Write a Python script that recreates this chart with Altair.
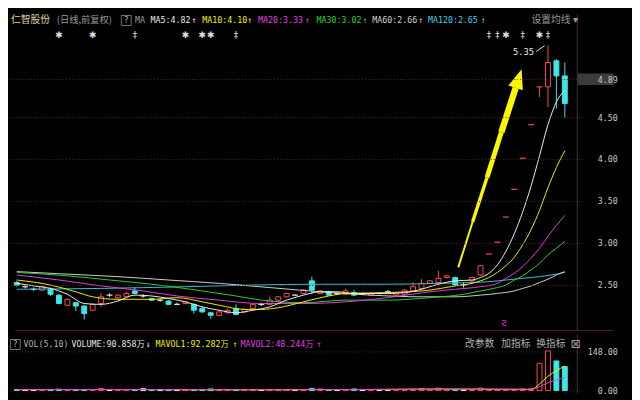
import altair as alt
import pandas as pd

# ---------------- data ----------------
opens  = [2.53,2.48,2.45,2.44,2.45,2.38,2.26,2.29,2.25,2.20,
          2.28,2.38,2.35,2.36,2.43,2.37,2.34,2.32,2.31,2.27,
          2.28,2.27,2.22,2.17,2.14,2.17,2.22,2.18,2.22,2.27,
          2.27,2.32,2.36,2.38,2.40,2.55,2.40,2.42,2.40,2.39,
          2.41,2.39,2.38,2.40,2.42,2.38,2.39,2.43,2.46,2.52,
          2.53,2.59,2.59,2.50,2.55,2.62,2.87,3.01,3.31,3.64,
          4.01,4.41,4.86,4.86,5.17,4.99]
closes = [2.50,2.48,2.45,2.48,2.39,2.28,2.33,2.25,2.16,2.27,
          2.36,2.38,2.38,2.40,2.40,2.37,2.32,2.32,2.27,2.27,
          2.30,2.20,2.18,2.14,2.18,2.20,2.15,2.21,2.27,2.27,
          2.32,2.36,2.40,2.38,2.44,2.44,2.43,2.38,2.40,2.43,
          2.38,2.39,2.40,2.40,2.42,2.41,2.44,2.48,2.52,2.55,
          2.58,2.61,2.50,2.50,2.59,2.73,2.87,3.01,3.31,3.64,
          4.01,4.41,4.86,5.15,4.99,4.66]
highs  = [2.55,2.51,2.47,2.49,2.47,2.39,2.34,2.30,2.26,2.28,
          2.41,2.40,2.39,2.42,2.47,2.39,2.35,2.34,2.32,2.29,
          2.31,2.28,2.25,2.18,2.19,2.22,2.27,2.22,2.28,2.29,
          2.36,2.37,2.41,2.39,2.45,2.60,2.44,2.43,2.41,2.46,
          2.44,2.41,2.41,2.41,2.44,2.42,2.45,2.53,2.57,2.56,
          2.67,2.62,2.60,2.53,2.60,2.74,2.87,3.01,3.31,3.64,
          4.01,4.41,4.86,5.35,5.19,5.15]
lows   = [2.48,2.46,2.43,2.43,2.37,2.27,2.25,2.19,2.09,2.19,
          2.24,2.36,2.34,2.35,2.39,2.35,2.31,2.30,2.26,2.26,
          2.27,2.16,2.17,2.10,2.13,2.16,2.14,2.17,2.21,2.25,
          2.26,2.29,2.35,2.37,2.39,2.39,2.39,2.37,2.38,2.38,
          2.37,2.38,2.37,2.39,2.40,2.37,2.38,2.42,2.45,2.51,
          2.52,2.58,2.49,2.47,2.53,2.61,2.87,3.01,3.31,3.64,
          4.01,4.41,4.74,4.62,4.60,4.49]
volumes = [3.5,2.5,2.0,3.0,3.5,5,3,3,4,3.5,
           8,2.5,2.5,3,3.5,7,3,2.5,3,2,
           2.5,3.5,3,6,2.5,3,4,2.5,3,2,
           3,3,3.5,2.5,4,8,6,3,2.5,3,
           6,2.5,2.5,2.5,2.5,3,4,5,7,4,
           9,4,4.5,3,4,9,3.5,3,4,4,
           6,6,103,150,112,90.86]

ma5 = [(0,2.52),(2,2.49),(4,2.46),(6,2.39),(8,2.28),(10,2.27),(12,2.31),(14,2.38),
       (16,2.37),(18,2.34),(20,2.30),(22,2.24),(24,2.20),(26,2.17),(28,2.20),(30,2.24),
       (32,2.32),(34,2.38),(36,2.42),(38,2.42),(40,2.40),(42,2.40),(44,2.40),(46,2.41),
       (48,2.45),(50,2.51),(52,2.55),(54,2.56),(55,2.59),(56,2.64),(57,2.74),(58,2.90),
       (59,3.11),(60,3.37),(61,3.68),(62,4.04),(63,4.41),(64,4.68),(65,4.82)]
ma10 = [(0,2.56),(4,2.50),(7,2.42),(9,2.36),(12,2.33),(16,2.33),(19,2.35),(22,2.30),
        (24,2.26),(27,2.21),(29,2.21),(31,2.23),(34,2.30),(37,2.37),(39,2.40),(44,2.41),
        (49,2.44),(52,2.49),(54,2.52),(55,2.55),(56,2.59),(57,2.65),(58,2.73),(59,2.83),
        (60,2.98),(61,3.16),(62,3.39),(63,3.66),(64,3.90),(65,4.10)]
ma20 = [(0,2.62),(5,2.56),(10,2.49),(15,2.43),(19,2.37),(24,2.32),(29,2.28),(34,2.28),
        (39,2.30),(44,2.35),(49,2.42),(52,2.45),(55,2.48),(57,2.52),(58,2.58),(59,2.64),
        (60,2.72),(61,2.82),(62,2.94),(63,3.08),(64,3.21),(65,3.33)]
ma30 = [(0,2.65),(6,2.61),(11,2.56),(16,2.51),(22,2.43),(26,2.37),(29,2.32),(34,2.29),
        (39,2.32),(44,2.32),(49,2.35),(53,2.39),(55,2.43),(57,2.47),(58,2.50),(59,2.56),
        (60,2.61),(61,2.68),(62,2.76),(63,2.86),(64,2.94),(65,3.02)]
ma60 = [(0,2.66),(6,2.63),(12,2.60),(18,2.56),(24,2.52),(30,2.47),(36,2.42),(42,2.38),
        (48,2.36),(52,2.36),(55,2.38),(57,2.40),(59,2.43),(60,2.46),(61,2.49),(62,2.53),
        (63,2.57),(64,2.62),(65,2.66)]
ma120 = [(0,2.45),(10,2.46),(20,2.48),(28,2.50),(36,2.51),(44,2.51),(50,2.52),(54,2.53),
         (56,2.54),(58,2.56),(60,2.58),(62,2.60),(64,2.63),(65,2.65)]
mavol1 = [(0,3.2),(10,4.0),(20,3.0),(30,3.0),(40,3.8),(50,5.8),(55,5.3),(58,4.7),
          (60,4.1),(61,4.6),(62,24.6),(63,53.8),(64,75.4),(65,92.3)]
mavol2 = [(0,3.3),(10,3.8),(20,3.5),(30,3.2),(40,3.6),(50,4.6),(55,5.4),(58,5.0),
          (60,5.0),(61,4.8),(62,14.6),(63,29.3),(64,40.2),(65,48.2)]

price_ticks = [2.5, 3.0, 3.5, 4.0, 4.5, 4.95]
last_price_label = "4.89"
vol_ticks = [148.0, 73.9, 0.0]
marker_idx = [5, 9, 14, 20, 22, 23, 26, 56, 57, 58, 60, 62, 63]
marker_sym = ["✱", "✱", "‡", "✱", "✱", "✱", "‡", "‡", "‡", "✱", "‡", "✱", "‡"]
# yellow arrow: shaft path points (idx, price) and head position
arrow_idx = [52.36, 54.06, 55.77, 57.47, 59.17]
arrow_price = [2.71, 3.25, 3.78, 4.32, 4.85]
arrow_head_idx = [59.43]
arrow_head_price = [4.93]
high_mark_idx = [61.6, 62.6]
high_mark_price = [5.28, 5.35]
high_label = "5.35"

# ---------------- styling ----------------
MONO = "DejaVu Sans Mono, Noto Sans CJK SC"
CJK = "Noto Sans CJK SC"
RED = "#ff4c4c"
CYAN = "#3fe6e6"
WHITE = "#e8e8e8"
YEL = "#f0f000"
MAG = "#e040e0"
GRN = "#30d030"
ARROW = "#f8f800"

n = len(closes)


def kind(o, c, h, l):
    if c > o:
        return "up"
    if c < o:
        return "down"
    if h == l or h == c:
        return "limit"
    return "doji"


candles = pd.DataFrame({"idx": list(range(n)), "open": opens, "close": closes,
                        "high": highs, "low": lows, "vol": volumes})
candles["kind"] = [kind(*t) for t in zip(opens, closes, highs, lows)]

kinds = ["up", "down", "doji", "limit"]
stroke_sc = alt.Scale(domain=kinds, range=[RED, CYAN, WHITE, RED])
fill_sc = alt.Scale(domain=kinds, range=["#000000", CYAN, "#000000", "#000000"])

X_MIN, X_MAX, X_EDGE = -0.23, 66.48, 70.8
P_MIN, P_MAX = 1.9535, 5.7209
V_MIN, V_MAX = -11.1, 210.9
xs = alt.Scale(domain=[X_MIN, X_MAX], nice=False, zero=False)
ys = alt.Scale(domain=[P_MIN, P_MAX], nice=False, zero=False)
vs = alt.Scale(domain=[V_MIN, V_MAX], nice=False, zero=False)
X = alt.X("idx:Q", scale=xs, axis=None)

price_axis = alt.Axis(orient="right", values=price_ticks,
                      labelExpr="datum.value == 4.95 ? '" + last_price_label +
                                "' : format(datum.value, '.2f')",
                      grid=True, gridColor="#5e2424", gridDash=[1, 2], gridWidth=1,
                      domain=False, ticks=False, labelAlign="right", labelPadding=36,
                      labelColor="#c8c8c8", labelFont=MONO, labelFontSize=8.5, zindex=1)
vol_axis = alt.Axis(orient="right", values=vol_ticks, format=".2f",
                    grid=True, gridColor="#5e2424", gridDash=[1, 2], gridWidth=1,
                    domain=False, ticks=False, labelAlign="right", labelPadding=36,
                    labelColor="#c8c8c8", labelFont=MONO, labelFontSize=8.5)

dummy = pd.DataFrame({"a": [0]})


def txt(s, x, y, color, size=8.5, font=MONO, align="left"):
    return alt.Chart(dummy).mark_text(text=s, align=align, baseline="middle", color=color,
                                      fontSize=size, font=font).encode(
        x=alt.value(x), y=alt.value(y))


def seg(xv, yv, scale, color, width=1):
    df = pd.DataFrame({"idx": xv, "val": yv, "k": list(range(len(xv)))})
    return alt.Chart(df).mark_line(color=color, strokeWidth=width).encode(
        x=X, y=alt.Y("val:Q", scale=scale), order="k:Q")


base = alt.Chart(candles)

wick = base.mark_rule(strokeWidth=1).encode(
    x=X, y=alt.Y("low:Q", scale=ys, axis=price_axis), y2="high:Q",
    stroke=alt.Stroke("kind:N", scale=stroke_sc, legend=None))

body = base.transform_filter("datum.kind == 'up' || datum.kind == 'down'").mark_bar(
    width=5, strokeWidth=1, opacity=1).encode(
    x=X, y=alt.Y("open:Q", scale=ys), y2="close:Q",
    fill=alt.Fill("kind:N", scale=fill_sc, legend=None),
    stroke=alt.Stroke("kind:N", scale=stroke_sc, legend=None))

flat = base.transform_filter("datum.kind == 'doji' || datum.kind == 'limit'").mark_point(
    shape="M-1,0L1,0", size=36, filled=False, strokeWidth=1.2, opacity=1).encode(
    x=X, y=alt.Y("close:Q", scale=ys),
    stroke=alt.Stroke("kind:N", scale=stroke_sc, legend=None))


def ma_line(pts, color, scale):
    df = pd.DataFrame(pts, columns=["idx", "val"])
    return alt.Chart(df).mark_line(color=color, strokeWidth=1, interpolate="monotone").encode(
        x=X, y=alt.Y("val:Q", scale=scale))


ma_layers = [ma_line(ma120, "#33c6d6", ys), ma_line(ma60, "#d2d2d2", ys),
             ma_line(ma30, GRN, ys), ma_line(ma20, MAG, ys),
             ma_line(ma10, YEL, ys), ma_line(ma5, "#f0f0f0", ys)]

shaft_widths = [2.0, 3.5, 5.0, 6.5]
shaft = [seg(arrow_idx[i:i + 2], arrow_price[i:i + 2], ys, ARROW, w)
         for i, w in enumerate(shaft_widths)]
ah_df = pd.DataFrame({"idx": arrow_head_idx, "price": arrow_head_price})
arrow_head = alt.Chart(ah_df).mark_point(
    shape="M0,-1L0.62,0.6L-0.62,0.6Z", size=625, angle=18, filled=True,
    color=ARROW, opacity=1).encode(x=X, y=alt.Y("price:Q", scale=ys))

high_line = seg(high_mark_idx, high_mark_price, ys, WHITE)
ht_df = pd.DataFrame({"idx": [61.35], "price": [5.28], "lab": [high_label]})
high_text = alt.Chart(ht_df).mark_text(align="right", baseline="middle", color=WHITE,
                                       fontSize=9, font=MONO).encode(
    x=X, y=alt.Y("price:Q", scale=ys), text="lab:N")
sig_df = pd.DataFrame({"idx": [57.8], "price": [2.05], "lab": ["ƨ"]})
sig = alt.Chart(sig_df).mark_text(align="center", baseline="middle", color="#e030d0",
                                  fontSize=11, font="DejaVu Sans").encode(
    x=X, y=alt.Y("price:Q", scale=ys), text="lab:N")

mk_df = pd.DataFrame({"idx": marker_idx, "sym": marker_sym})
markers = alt.Chart(mk_df).mark_text(baseline="middle", color="#e0e0e0", fontSize=9,
                                     font="DejaVu Sans").encode(
    x=X, y=alt.value(21), text="sym:N")

lb_df = pd.DataFrame({"idx": [68.65], "price": [4.95]})
last_box = alt.Chart(lb_df).mark_point(
    shape="M-1,-0.32L1,-0.32L1,0.32L-1,0.32Z", size=1369, filled=True,
    color="#3c3c3c", opacity=1).encode(x=X, y=alt.Y("price:Q", scale=ys))

header = [
    txt("仁智股份", 1, 6, "#e2d9a0", size=10, font=CJK),
    txt("(日线,前复权)", 48, 6, "#9a9a9a", size=9.5, font=CJK),
    txt("□", 119, 6, "#8a8a8a", size=14, font="DejaVu Sans", align="center"),
    txt("?", 119, 6, "#b0b0b0", align="center"),
    txt("MA", 128, 6, "#9a9a9a"),
    txt("MA5:4.82", 144, 6, "#e8e8e8"), txt("↑", 186, 6, "#e8e8e8"),
    txt("MA10:4.10", 197, 6, YEL), txt("↑", 243, 6, YEL),
    txt("MA20:3.33", 254, 6, MAG), txt("↑", 302, 6, MAG),
    txt("MA30:3.02", 314, 6, GRN), txt("↑", 361, 6, GRN),
    txt("MA60:2.66", 371, 6, "#d2d2d2"), txt("↑", 418, 6, "#d2d2d2"),
    txt("MA120:2.65", 428, 6, "#40d0e0"), txt("↑", 482, 6, "#40d0e0"),
    txt("设置均线 ▾", 534, 6, "#9a9a9a", size=10, font=CJK),
]

main_sep_h = seg([X_MIN, X_EDGE], [P_MIN + 0.006, P_MIN + 0.006], ys, "#5a1c1c")
main_sep_v = seg([X_MAX, X_MAX], [P_MIN, P_MAX], ys, "#4a3030")

main = alt.layer(wick, body, flat, *ma_layers, *shaft, arrow_head, high_line, high_text,
                 sig, markers, last_box, main_sep_h, main_sep_v,
                 *header).properties(width=586, height=324)

# ---------------- volume panel ----------------
vol_bars = base.mark_bar(width=5, strokeWidth=1, opacity=1).encode(
    x=X, y=alt.Y("vol:Q", scale=vs, axis=vol_axis), y2=alt.datum(0),
    fill=alt.Fill("kind:N", scale=fill_sc, legend=None),
    stroke=alt.Stroke("kind:N", scale=stroke_sc, legend=None))

vol_sep_v = seg([X_MAX, X_MAX], [V_MIN, V_MAX], vs, "#4a3030")

vol_header = [
    txt("□", 5.5, 9, "#8a8a8a", size=14, font="DejaVu Sans", align="center"),
    txt("?", 5.5, 9, "#b0b0b0", align="center"),
    txt("VOL(5,10)", 14, 9, "#b0b0b0"),
    txt("VOLUME:90.858万", 63, 9, "#e8e8e8"), txt("↓", 139, 9, "#e8e8e8"),
    txt("MAVOL1:92.282万", 149, 9, YEL), txt("↑", 228, 9, YEL),
    txt("MAVOL2:48.244万", 236, 9, MAG), txt("↑", 314, 9, MAG),
    txt("改参数", 466, 9, "#b0b0b0", size=10, font=CJK),
    txt("加指标", 503, 9, "#b0b0b0", size=10, font=CJK),
    txt("换指标", 539, 9, "#b0b0b0", size=10, font=CJK),
    txt("⊠", 579.5, 9, "#9a9a9a", size=13, font="DejaVu Sans", align="center"),
]

vol = alt.layer(vol_bars, ma_line(mavol1, YEL, vs), ma_line(mavol2, MAG, vs),
                vol_sep_v, *vol_header).properties(width=586, height=60)

chart = alt.vconcat(main, vol, spacing=0).properties(
    background="#000000", padding=0,
).configure_view(strokeWidth=0)

chart.save("out.html", embed_options={"renderer": "svg", "actions": False})
